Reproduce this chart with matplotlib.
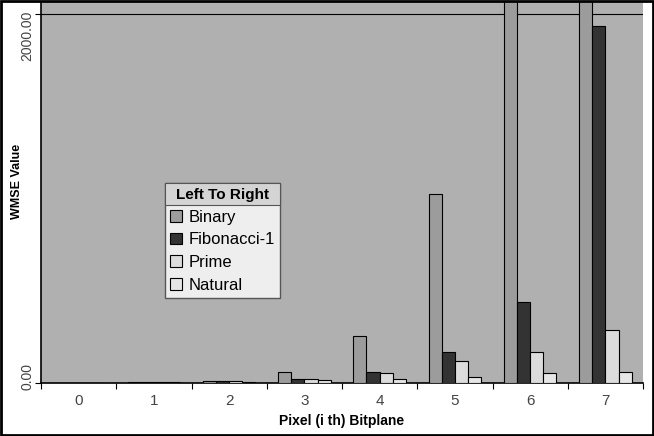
import numpy as np
import matplotlib
matplotlib.use('Agg')
import matplotlib.pyplot as plt
from matplotlib.patches import Rectangle

# data (binary at 6 and 7 runs off the top)
bitplanes = ['0', '1', '2', '3', '4', '5', '6', '7']
binary = [1, 5, 12, 60, 255, 1025, 3500, 6000]
fibonacci = [1, 4, 10, 22, 60, 168, 439, 1935]
prime = [1, 4, 10, 24, 54, 119, 168, 287]
natural = [0, 3, 8, 15, 22, 33, 54, 60]
yticks = [0, 2000]
ytick_labels = ['0.00', '2000.00']

series = [('Binary', binary, '#9c9c9c'),
          ('Fibonacci-1', fibonacci, '#333333'),
          ('Prime', prime, '#dcdcdc'),
          ('Natural', natural, '#e6e6e6')]

plt.rcParams['font.family'] = ['Liberation Sans', 'DejaVu Sans']

fig = plt.figure(figsize=(6.54, 4.36), dpi=100)
ax = fig.add_axes([41/654, 1 - 383/436, 602/654, 381/436])
ax.set_facecolor('#b0b0b0')

x = np.arange(len(bitplanes))
w = 0.175
for i, (name, vals, col) in enumerate(series):
    ax.bar(x + (i - 1.5) * w, vals, w, color=col, edgecolor='black',
           linewidth=0.8, label=name, zorder=3)

ax.axhline(2000, color='black', linewidth=0.8, zorder=1)
ax.set_ylim(0, 2065)
ax.set_xlim(-0.5, 7.5)
ax.set_yticks(yticks)
ax.set_yticklabels([])
# y tick labels drawn by hand so the top one can sit lower, as in the original
offsets = [5, -16]
for val, lab, off in zip(yticks, ytick_labels, offsets):
    ax.annotate(lab, xy=(0, val), xycoords=('axes fraction', 'data'),
                xytext=(-10, off), textcoords='offset points', rotation=90,
                ha='center', va='center', fontsize=10, color='#444444')
ax.set_xticks(np.arange(-0.5, 8, 1))
ax.set_xticklabels([])
ax.set_xticks(x, minor=True)
ax.set_xticklabels(bitplanes, minor=True, fontsize=11, color='#444444')
ax.tick_params(axis='x', which='minor', length=0, pad=8)
ax.tick_params(axis='x', which='major', length=4, direction='out')
ax.tick_params(axis='y', length=4, pad=2)

for s in ['top', 'right']:
    ax.spines[s].set_visible(False)
ax.spines['left'].set_linewidth(1.2)
ax.spines['bottom'].set_linewidth(1.2)

ax.set_xlabel('Pixel (i th) Bitplane', fontsize=10, fontweight='bold', labelpad=4)
ax.set_ylabel('WMSE Value', fontsize=9, fontweight='bold')
ax.yaxis.set_label_coords((23 - 41) / 602, 0.53)

leg = ax.legend(title='Left To Right', loc='upper left',
                bbox_to_anchor=((165 - 41) / 602, (383 - 183) / 381),
                fontsize=12, title_fontproperties={'weight': 'bold', 'size': 11},
                frameon=True, fancybox=False, borderpad=0.3, borderaxespad=0,
                handlelength=0.7, handleheight=0.7, handletextpad=0.4,
                labelspacing=0.46)
leg.get_frame().set_facecolor('#eeeeee')
leg.get_frame().set_edgecolor('#555555')
leg.get_frame().set_alpha(1)

# shaded header band behind the legend title
fig.canvas.draw()
inv = fig.transFigure.inverted()
fb = leg.get_frame().get_window_extent()
tb = leg.get_title().get_window_extent()
hy0 = tb.y0 - 3
(x0, y0), (x1, y1) = inv.transform([(fb.x0, hy0), (fb.x1, fb.y1)])
hdr = Rectangle((x0, y0), x1 - x0, y1 - y0, transform=fig.transFigure,
                facecolor='#d4d4d4', edgecolor='#555555', linewidth=0.8, zorder=6)
fig.patches.append(hdr)
title = leg.get_title()
fig.text((tb.x0 + tb.x1) / 2 / fig.bbox.width, (tb.y0 + tb.y1) / 2 / fig.bbox.height,
         'Left To Right', ha='center', va='center', fontsize=11,
         fontweight='bold', zorder=7)
title.set_visible(False)

# black border round the whole figure
fig.patches.append(Rectangle((0.002, 0.002), 0.996, 0.996, transform=fig.transFigure,
                             fill=False, edgecolor='black', linewidth=2))

fig.savefig('out.png', dpi=100)
